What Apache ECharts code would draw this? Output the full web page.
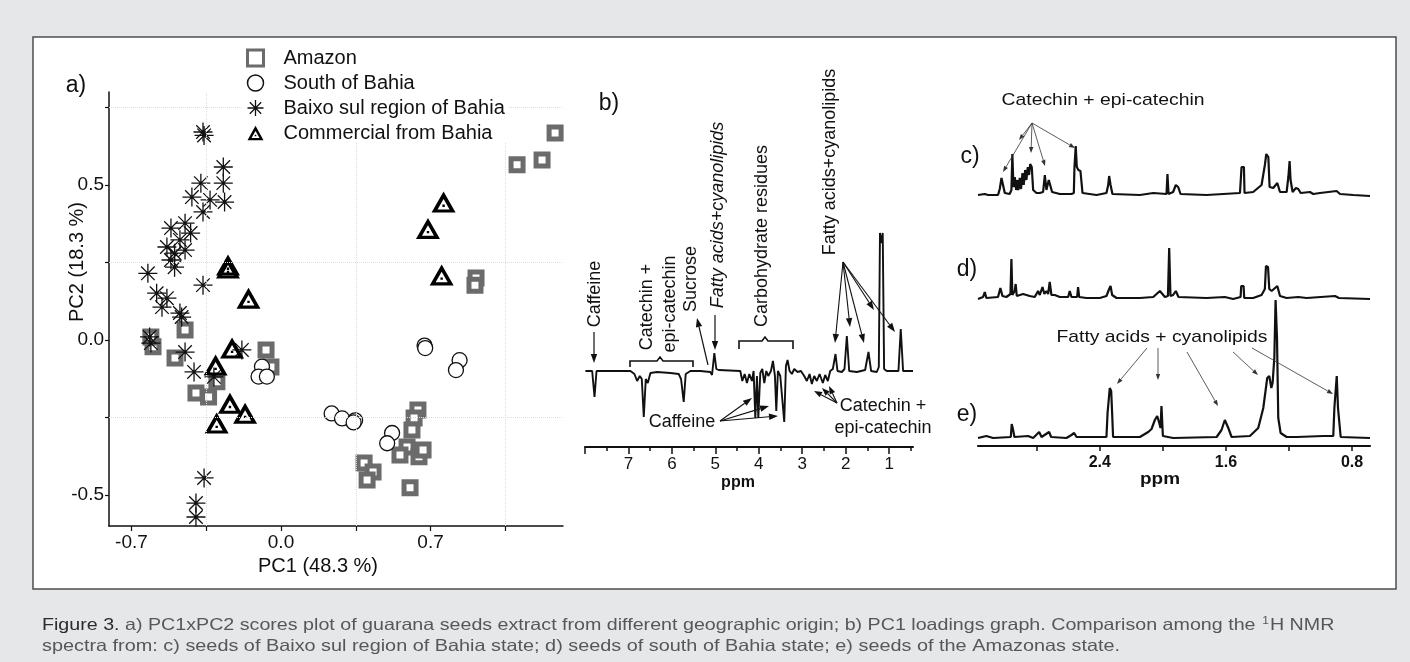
<!DOCTYPE html>
<html><head><meta charset="utf-8">
<script src="https://cdn.jsdelivr.net/npm/echarts@6/dist/echarts.min.js"></script>
<style>html,body{margin:0;padding:0;background:#e6e7e9;}#c{width:1410px;height:662px;}</style>
</head><body><div id="c"></div>
<script>
// ---------- data: a) PCA scores ----------
const amazon = [[1.283,0.668],[1.105,0.565],[1.222,0.581],[0.913,0.200],[0.908,0.177],
[-0.449,0.032],[-0.599,-0.022],[-0.609,0.010],[-0.496,-0.058],[-0.398,-0.171],[-0.339,-0.184],[-0.300,-0.135],[-0.070,-0.032],[-0.047,-0.087],
[0.641,-0.226],[0.623,-0.252],[0.613,-0.290],[0.590,-0.345],[0.557,-0.371],[0.646,-0.377],[0.665,-0.355],[0.389,-0.397],[0.431,-0.426],[0.403,-0.452],[0.604,-0.477]];
const southBahia = [[0.672,-0.018],[0.675,-0.026],[0.836,-0.065],[0.819,-0.097],[0.237,-0.237],[0.286,-0.253],[0.347,-0.259],[0.340,-0.266],[0.520,-0.300],[0.497,-0.333],[-0.089,-0.086],[-0.105,-0.118],[-0.066,-0.118]];
const baixoSul = [[-0.365,0.671],[-0.360,0.660],[-0.270,0.558],[-0.375,0.506],[-0.270,0.506],[-0.417,0.461],[-0.332,0.452],[-0.264,0.445],[-0.365,0.413],[-0.449,0.377],[-0.515,0.361],[-0.423,0.345],[-0.473,0.323],[-0.534,0.300],[-0.498,0.280],[-0.449,0.290],[-0.515,0.258],[-0.498,0.235],[-0.623,0.215],[-0.365,0.177],[-0.582,0.151],[-0.534,0.135],[-0.557,0.106],[-0.473,0.087],[-0.465,0.074],[-0.615,0.010],[-0.609,-0.010],[-0.449,-0.039],[-0.407,-0.103],[-0.183,-0.032],[-0.314,-0.119],[-0.360,-0.445],[-0.398,-0.526],[-0.398,-0.571]];
const commercial = [[0.761,0.445],[0.688,0.360],[0.752,0.210],[-0.248,0.242],[-0.248,0.232],[-0.152,0.135],[-0.229,-0.026],[-0.306,-0.081],[-0.239,-0.204],[-0.168,-0.236],[-0.301,-0.268]];
const aTicksX = [-0.7,-0.35,0,0.35,0.7,1.05];
const aLabelsX = [-0.7,0,0.7];
const aTicksY = [-0.5,-0.25,0,0.25,0.5,0.75];
const aLabelsY = [-0.5,0,0.5];
const aGridX = [-0.35,0.35,1.05];
const aGridY = [0.75,0.25,-0.25];

// ---------- data: b) PC1 loadings [ppm, loading] ----------
const loadings = [[7.99,0],[7.835,0],[7.781,-26],[7.735,0],
[6.954,0],[6.862,-3],[6.80,-10],[6.739,-5],[6.693,-8],[6.647,-46],[6.601,-8],[6.555,-12],[6.494,-2],[6.341,-1],[6.034,-2],[5.843,-3],[5.789,-8],[5.728,-31],[5.682,-3],[5.574,0],[5.345,0],[5.115,-1],[5.076,-4],[5.023,18],[4.977,2],[4.923,1],[4.425,0],
[4.379,-10],[4.325,-3],[4.272,-12],[4.218,-3],[4.157,-10],[4.119,0],[4.08,-47],[4.042,-5],[4.011,-47],[3.965,-2],[3.919,2],[3.873,-12],[3.827,0],[3.781,-5],[3.72,0],[3.674,10],[3.628,-5],[3.597,-40],[3.559,0],[3.505,-5],[3.467,-5],[3.414,-51],[3.375,5],[3.337,11],[3.291,0],[3.238,-3],[3.184,2],[3.107,-1],[3.03,0],[2.954,-5],[2.893,-10],[2.831,-3],[2.778,-13],[2.724,-5],[2.663,-10],[2.601,-3],[2.525,-12],[2.471,-4],[2.41,-10],[2.356,0],[2.295,2],[2.234,17],[2.188,0],[2.088,-1],[2.027,2],[1.973,35],[1.919,0],[1.743,-1],[1.552,1],[1.475,19],[1.414,0],[1.283,-1],[1.237,4],[1.21,138],[1.178,128],[1.147,138],[1.115,2],[1.054,0],[0.785,0],[0.732,42],[0.678,0],[0.45,0]];
const bTicksMajor = [1,2,3,4,5,6,7,8];
const bTicksMinor = [0.5,1.5,2.5,3.5,4.5,5.5,6.5,7.5];
const bLabels = [1,2,3,4,5,6,7];

// ---------- data: c), d), e) 1H NMR spectra [ppm, intensity] ----------
const spectrumC = [[3.173,0],[3.130,1],[3.109,0],[3.046,0],[3.035,6],[3.024,17],[3.014,15],[3.003,2],[2.972,1],[2.961,5],[2.955,41],[2.948,8],[2.940,18],[2.931,5],[2.923,15],[2.917,5],[2.908,17],[2.900,6],[2.891,22],[2.883,10],[2.874,25],[2.866,15],[2.857,28],[2.849,20],[2.842,31],[2.832,28],[2.823,5],[2.802,2],[2.781,2],[2.760,3],[2.749,20],[2.739,5],[2.724,15],[2.713,17],[2.703,3],[2.654,1],[2.580,1],[2.565,2],[2.561,28],[2.553,49],[2.546,28],[2.536,25],[2.523,24],[2.510,2],[2.421,0],[2.358,2],[2.347,10],[2.341,19],[2.332,10],[2.320,1],[2.146,0],[2.061,2],[1.977,1],[1.971,21],[1.964,1],[1.935,3],[1.918,10],[1.903,8],[1.888,1],[1.723,0],[1.617,1],[1.511,2],[1.501,28],[1.486,28],[1.482,2],[1.427,3],[1.374,10],[1.353,30],[1.344,41],[1.331,38],[1.323,8],[1.300,7],[1.274,12],[1.257,3],[1.215,3],[1.204,18],[1.196,34],[1.190,15],[1.177,3],[1.156,7],[1.141,6],[1.126,2],[1.067,3],[1.046,1],[1.003,2],[0.898,4],[0.876,1],[0.792,0],[0.686,-1]];
const spectrumD = [[3.173,0],[3.141,2],[3.130,7],[3.120,1],[3.046,2],[3.031,11],[3.018,3],[2.993,2],[2.967,5],[2.961,40],[2.955,4],[2.940,8],[2.934,15],[2.927,3],[2.887,5],[2.845,3],[2.813,2],[2.792,8],[2.781,4],[2.764,12],[2.752,5],[2.739,8],[2.728,5],[2.718,17],[2.707,4],[2.686,4],[2.654,2],[2.601,2],[2.591,8],[2.580,2],[2.544,2],[2.538,12],[2.531,2],[2.485,1],[2.400,1],[2.358,3],[2.341,10],[2.332,13],[2.322,4],[2.294,1],[2.235,1],[2.146,1],[2.061,2],[2.019,8],[1.987,2],[1.968,3],[1.960,51],[1.952,3],[1.935,4],[1.918,8],[1.901,2],[1.723,1],[1.607,2],[1.554,0],[1.507,2],[1.503,13],[1.488,13],[1.484,1],[1.427,1],[1.374,4],[1.353,10],[1.346,33],[1.333,32],[1.325,10],[1.310,8],[1.274,13],[1.257,3],[1.215,1],[1.141,2],[1.088,1],[0.908,3],[0.897,5],[0.883,1],[0.686,0]];
const spectrumE = [[3.173,0],[3.120,2],[3.077,0],[2.965,1],[2.959,14],[2.950,8],[2.942,1],[2.855,2],[2.823,0],[2.785,6],[2.770,1],[2.722,6],[2.709,1],[2.612,0],[2.580,3],[2.563,5],[2.548,1],[2.442,1],[2.358,1],[2.351,25],[2.343,25],[2.337,50],[2.328,47],[2.322,25],[2.316,1],[2.146,1],[2.093,6],[2.072,9],[2.051,18],[2.036,22],[2.023,15],[2.015,10],[2.009,32],[2.000,2],[1.935,0],[1.659,1],[1.628,8],[1.607,18],[1.585,10],[1.564,1],[1.448,2],[1.395,10],[1.363,30],[1.338,60],[1.325,62],[1.312,50],[1.304,55],[1.293,80],[1.285,138],[1.276,100],[1.268,20],[1.253,5],[1.215,1],[1.151,1],[0.982,2],[0.919,2],[0.912,30],[0.904,30],[0.897,62],[0.889,30],[0.881,30],[0.872,1],[0.686,0]];
const eTicks = [0.8,1.2,1.6,2.0,2.4,2.8];
const eLabels = [0.8,1.6,2.4];

// ---------- helpers ----------
const FAM = "'Liberation Sans', Arial, sans-serif";
const cv = document.createElement('canvas').getContext('2d');
function textW(t, font){ cv.font = font; return cv.measureText(t).width; }
function T(o){
  const font = (o.italic?'italic ':'') + (o.bold?'bold ':'') + o.size + 'px ' + FAM;
  const sx = o.width ? o.width / textW(o.text, font) : 1;
  const al = o.align || 'center', va = o.valign || 'middle';
  return {type:'text', x:o.x, y:o.y, rotation:o.rot||0, scaleX:sx, z:100,
    style:{text:o.text, font:font, fill:o.color||'#111', textAlign:al, textVerticalAlign:va, align:al, verticalAlign:va}};
}
function arrow(x1,y1,x2,y2,o){
  o = o||{};
  const c=o.color||'#111', w=o.w||1.2, L=o.L||9, H=o.H||3.2;
  const a=Math.atan2(y2-y1,x2-x1);
  const bx=x2-L*Math.cos(a), by=y2-L*Math.sin(a);
  const nx=-Math.sin(a), ny=Math.cos(a);
  return [{type:'line', z:90, shape:{x1:x1,y1:y1,x2:bx,y2:by}, style:{stroke:c,lineWidth:w}},
          {type:'polygon', z:90, shape:{points:[[x2,y2],[bx+nx*H,by+ny*H],[bx-nx*H,by-ny*H]]}, style:{fill:c}}];
}
function poly(pts){ return {type:'polyline', z:90, shape:{points:pts}, style:{stroke:'#111', lineWidth:1.6, fill:null}}; }
const R90 = Math.PI/2;

const g = [];
g.push({type:'rect', z:-10, shape:{x:33,y:37,width:1363,height:552}, style:{fill:'#ffffff', stroke:'#4d4d4d', lineWidth:1.5}});
// panel a texts
g.push(T({x:76,y:86,text:'a)',size:23}));
g.push(T({x:77,y:262,text:'PC2 (18.3 %)',size:20,rot:R90}));
g.push(T({x:318,y:566,text:'PC1 (48.3 %)',size:20}));
// panel b texts
g.push(T({x:609,y:104,text:'b)',size:23}));
g.push(T({x:595,y:294,text:'Caffeine',size:18,rot:R90}));
g.push(...arrow(594,332,594,363));
g.push(T({x:647,y:307,text:'Catechin +',size:18,rot:R90}));
g.push(T({x:670,y:304,text:'epi-catechin',size:18,rot:R90}));
g.push(poly([[630,367],[630,361],[657,361],[660,357],[663,361],[693,361],[693,367]]));
g.push(T({x:691,y:279,text:'Sucrose',size:18,rot:R90}));
g.push(...arrow(708,365,697,318));
g.push(T({x:718,y:215,text:'Fatty acids+cyanolipids',size:18,rot:R90,italic:true}));
g.push(...arrow(715,315,715,350));
g.push(T({x:762,y:236,text:'Carbohydrate residues',size:18,rot:R90}));
g.push(poly([[739,349],[739,341],[762,341],[765,337],[768,341],[793,341],[793,349]]));
g.push(T({x:830,y:162,text:'Fatty acids+cyanolipids',size:18,rot:R90}));
[[835,343],[850,327],[864,343],[874,310],[895,332]].forEach(p=>g.push(...arrow(843,262,p[0],p[1],{w:1.1})));
g.push(T({x:682,y:422,text:'Caffeine',size:18}));
[[752,398],[769,406],[778,416]].forEach(p=>g.push(...arrow(720,421,p[0],p[1],{w:1.1})));
g.push(T({x:883,y:406,text:'Catechin +',size:18}));
g.push(T({x:883,y:428,text:'epi-catechin',size:18}));
[[814,391],[822,388],[829,386]].forEach(p=>g.push(...arrow(837,403,p[0],p[1],{w:1.1,L:8,H:3})));
g.push(T({x:738,y:483,text:'ppm',size:16,bold:true}));
// panels c,d,e texts
g.push(T({x:970,y:157,text:'c)',size:23}));
g.push(T({x:967,y:270,text:'d)',size:23}));
g.push(T({x:967,y:415,text:'e)',size:23}));
g.push(T({x:1103,y:100,text:'Catechin + epi-catechin',size:17,width:203}));
[[1003,172],[1019,140],[1031,153],[1045,166],[1075,148]].forEach(p=>g.push(...arrow(1032,123,p[0],p[1],{color:'#333',w:0.8,L:6,H:2.2})));
g.push(T({x:1162,y:337,text:'Fatty acids + cyanolipids',size:17,width:211}));
[[1147,348,1117,384],[1158,348,1158,380],[1187,352,1218,406],[1233,352,1258,375],[1252,348,1333,394]].forEach(p=>g.push(...arrow(p[0],p[1],p[2],p[3],{color:'#333',w:0.8,L:6,H:2.2})));
g.push(T({x:1160,y:479,text:'ppm',size:17,bold:true,width:40}));
// caption
const cap1a = 'Figure 3.', cap1b = ' a) PC1xPC2 scores plot of guarana seeds extract from different geographic origin; b) PC1 loadings graph. Comparison among the ', cap1c = 'H NMR';
const cap2 = 'spectra from: c) seeds of Baixo sul region of Bahia state; d) seeds of south of Bahia state; e) seeds of the Amazonas state.';
const capFont = '16.5px ' + FAM;
const w1 = textW(cap1a+cap1b+cap1c, capFont) + textW('1', '10px '+FAM);
const w2 = textW(cap2, capFont);
g.push({type:'text', x:42, y:625, scaleX:1290/w1, z:100, style:{
  text:'{b|'+cap1a+'}{n|'+cap1b+'}{s|1}{n|'+cap1c+'}', textAlign:'left', align:'left', textVerticalAlign:'middle', verticalAlign:'middle',
  rich:{b:{font:capFont, fill:'#2b2b2b', color:'#2b2b2b'}, n:{font:capFont, fill:'#575757', color:'#575757'}, s:{font:'10px '+FAM, fill:'#575757', color:'#575757', verticalAlign:'top', padding:[0,1,6,1]}}}});
g.push({type:'text', x:42, y:646, scaleX:1078/w2, z:100, style:{text:cap2, font:capFont, fill:'#575757', textAlign:'left', align:'left', textVerticalAlign:'middle', verticalAlign:'middle'}});

const hidden = {show:false};
const fmt1 = v => v.toFixed(1);

const option = {
  animation:false,
  backgroundColor:'#e6e7e9',
  legend:{
    data:[{name:'Amazon', itemStyle:{borderWidth:3}}, {name:'South of Bahia', itemStyle:{borderWidth:1.5}},
          {name:'Baixo sul region of Bahia', itemStyle:{borderWidth:1.3}}, {name:'Commercial from Bahia'}],
    orient:'vertical', left:242, top:48, itemWidth:16, itemHeight:16, itemGap:5, padding:[0,4,0,4],
    backgroundColor:'#ffffff', z:20,
    textStyle:{fontSize:20, fontFamily:FAM, color:'#111', padding:[0,0,0,15], lineHeight:20}
  },
  grid:[
    {left:109, top:92, width:454, height:434},
    {left:585, top:231, width:328, height:216},
    {left:978, top:135, width:392, height:65},
    {left:978, top:239, width:392, height:65},
    {left:978, top:288, width:392, height:158}
  ],
  xAxis:[
    {gridIndex:0, type:'value', min:-0.805, max:1.32, axisLine:{onZero:false, lineStyle:{color:'#111', width:1.5}},
     axisTick:{customValues:aTicksX, length:5, lineStyle:{color:'#111', width:1.2}},
     axisLabel:{customValues:aLabelsX, formatter:fmt1, fontSize:19, fontFamily:FAM, color:'#111', margin:7}, splitLine:hidden},
    {gridIndex:1, type:'value', inverse:true, min:0.45, max:8.0, axisLine:{onZero:false, lineStyle:{color:'#111', width:2}},
     axisTick:{customValues:bTicksMajor, length:7, lineStyle:{color:'#111', width:1.5}},
     axisLabel:{customValues:bLabels, fontSize:17, fontFamily:FAM, color:'#111', margin:9}, splitLine:hidden},
    {gridIndex:1, type:'value', inverse:true, min:0.45, max:8.0, position:'top', offset:-216, axisLine:{show:false, onZero:false},
     axisTick:{inside:true, customValues:bTicksMinor, length:4, lineStyle:{color:'#111', width:1.5}},
     axisLabel:hidden, splitLine:hidden},
    {gridIndex:2, type:'value', inverse:true, min:0.686, max:3.173, show:false},
    {gridIndex:3, type:'value', inverse:true, min:0.686, max:3.173, show:false},
    {gridIndex:4, type:'value', inverse:true, min:0.686, max:3.173, axisLine:{onZero:false, lineStyle:{color:'#111', width:2.2}},
     axisTick:{customValues:eTicks, length:5, lineStyle:{color:'#111', width:1.5}},
     axisLabel:{customValues:eLabels, formatter:fmt1, fontSize:16, fontWeight:'bold', fontFamily:FAM, color:'#111', margin:9}, splitLine:hidden}
  ],
  yAxis:[
    {gridIndex:0, type:'value', min:-0.6, max:0.8, axisLine:{show:true, onZero:false, lineStyle:{color:'#111', width:1.5}},
     axisTick:{show:true, customValues:aTicksY, length:4, lineStyle:{color:'#111', width:1.2}},
     axisLabel:{customValues:aLabelsY, formatter:fmt1, fontSize:19, fontFamily:FAM, color:'#111', margin:5}, splitLine:hidden},
    {gridIndex:1, type:'value', min:-76, max:140, show:false},
    {gridIndex:2, type:'value', min:-5, max:60, show:false},
    {gridIndex:3, type:'value', min:-5, max:60, show:false},
    {gridIndex:4, type:'value', min:-8, max:150, show:false}
  ],
  series:[
    {name:'Amazon', type:'scatter', xAxisIndex:0, yAxisIndex:0, data:amazon, symbol:'rect', symbolSize:12,
     itemStyle:{color:'#ffffff', borderColor:'#6b6b6b', borderWidth:5, opacity:1},
     markLine:{silent:true, symbol:'none', label:{show:false}, lineStyle:{color:'#dcdcdc', type:'dotted', width:1},
       data:aGridX.map(v=>({xAxis:v})).concat(aGridY.map(v=>({yAxis:v})))}},
    {name:'South of Bahia', type:'scatter', xAxisIndex:0, yAxisIndex:0, data:southBahia, symbol:'circle', symbolSize:15,
     itemStyle:{color:'#ffffff', borderColor:'#111', borderWidth:1.3, opacity:1}},
    {name:'Baixo sul region of Bahia', type:'scatter', xAxisIndex:0, yAxisIndex:0, data:baixoSul,
     symbol:'path://M0,8L16,8M8,0L8,16M2.3,2.3L13.7,13.7M13.7,2.3L2.3,13.7', symbolSize:19,
     itemStyle:{color:'rgba(0,0,0,0)', borderColor:'#111', borderWidth:1.3, opacity:1}},
    {name:'Commercial from Bahia', type:'scatter', xAxisIndex:0, yAxisIndex:0, data:commercial,
     symbol:'path://M10,0L20,18L0,18ZM10,6.4L5,15.4L15,15.4ZM9,11.2L11,11.2L11,13.2L9,13.2Z', symbolSize:[24,21],
     itemStyle:{color:'#000', opacity:1}},
    {name:'loadings', type:'line', xAxisIndex:1, yAxisIndex:1, data:loadings, showSymbol:false, symbol:'none',
     lineStyle:{color:'#111', width:1.9}},
    {name:'c', type:'line', xAxisIndex:3, yAxisIndex:2, data:spectrumC, symbol:'none', lineStyle:{color:'#111', width:2.2}},
    {name:'d', type:'line', xAxisIndex:4, yAxisIndex:3, data:spectrumD, symbol:'none', lineStyle:{color:'#111', width:2.2}},
    {name:'e', type:'line', xAxisIndex:5, yAxisIndex:4, data:spectrumE, symbol:'none', lineStyle:{color:'#111', width:2.2}}
  ],
  graphic:{elements:g}
};
const chart = echarts.init(document.getElementById('c'), null, {renderer:'canvas'});
chart.setOption(option);
</script>
</body></html>
